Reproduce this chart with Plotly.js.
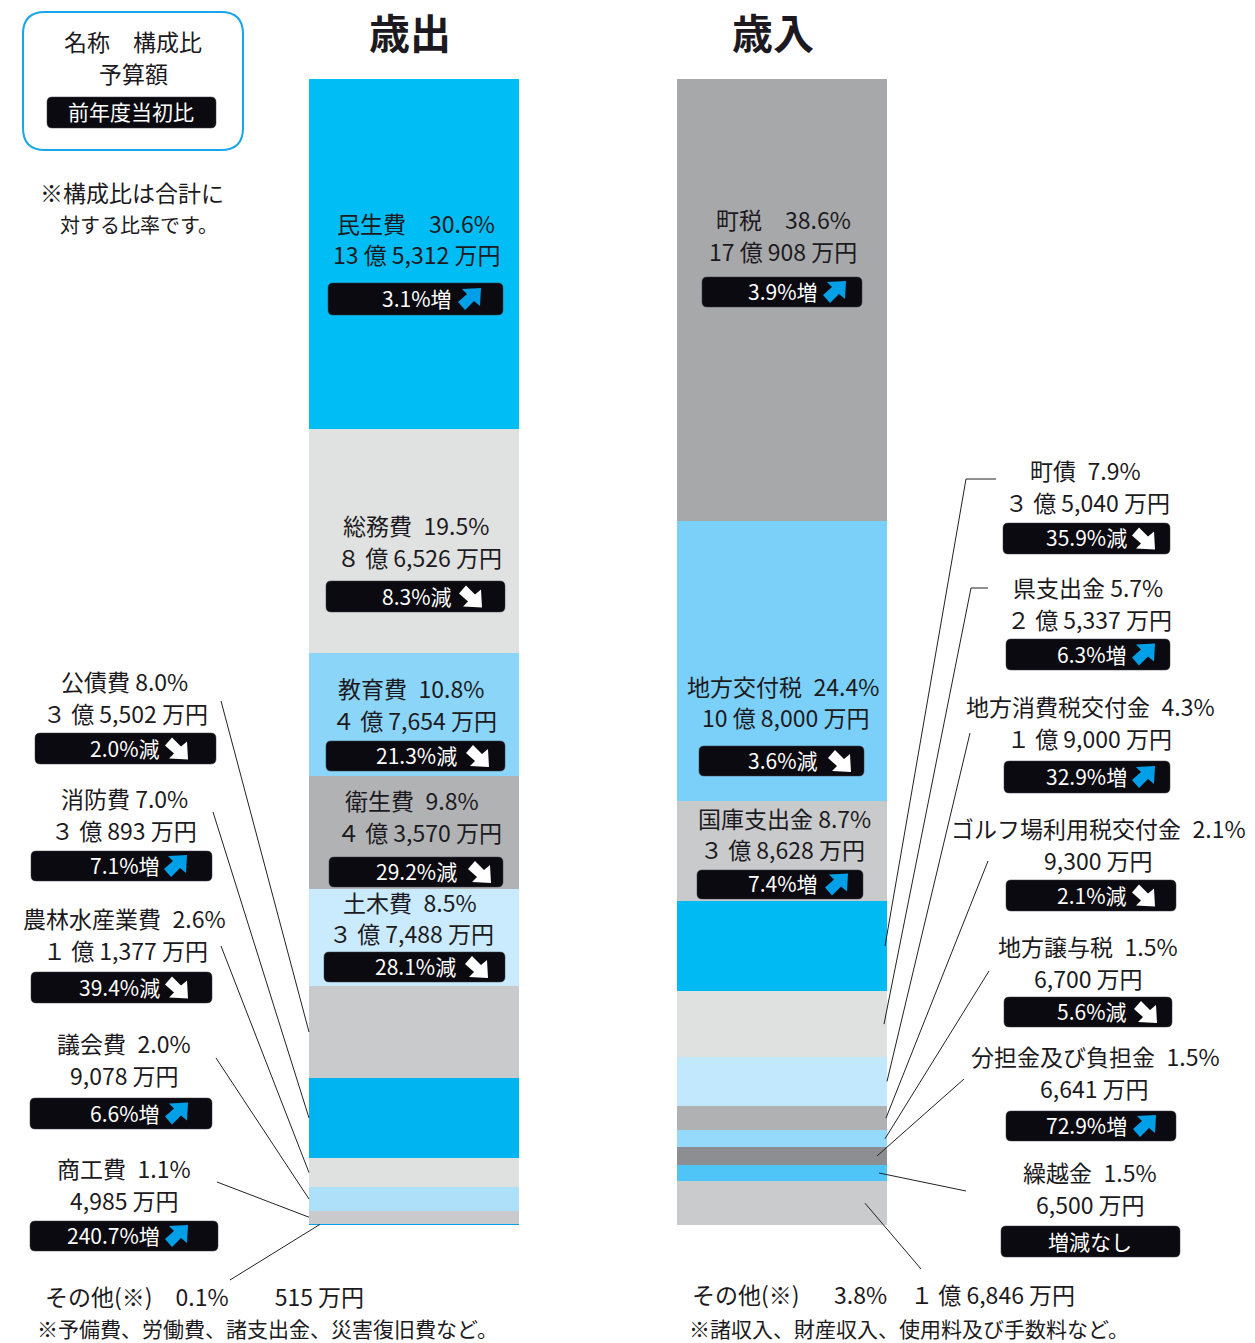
<!DOCTYPE html>
<html lang="ja">
<head>
<meta charset="utf-8">
<script src="https://cdn.plot.ly/plotly-3.0.1.min.js"></script>
<style>html,body{margin:0;padding:0;background:#fff}#chart{width:1255px;height:1343px}</style>
</head>
<body>
<div id="chart"></div>
<script>
// 歳出 (amounts in 万円, top segment first)
const expNames  = ["民生費","総務費","教育費","衛生費","土木費","公債費","消防費","農林水産業費","議会費","商工費","その他(※)"];
const expShares = ["30.6","19.5","10.8","9.8","8.5","8.0","7.0","2.6","2.0","1.1","0.1"];
const expAmounts = [135312,86526,47654,43570,37488,35502,30893,11377,9078,4985,515];
const expChanges = ["3.1%増","8.3%減","21.3%減","29.2%減","28.1%減","2.0%減","7.1%増","39.4%減","6.6%増","240.7%増",""];
const expColors = ["#00bdf6","#e0e2e1","#8bd5f8","#b1b2b4","#c9ebfd","#c9cacc","#00b3f1","#dfe1e0","#aee0fa","#c9cacc","#00a2ee"];

// 歳入
const revNames  = ["町税","地方交付税","国庫支出金","町債","県支出金","地方消費税交付金","ゴルフ場利用税交付金","地方譲与税","分担金及び負担金","繰越金","その他(※)"];
const revShares = ["38.6","24.4","8.7","7.9","5.7","4.3","2.1","1.5","1.5","1.5","3.8"];
const revAmounts = [170908,108000,38628,35040,25337,19000,9300,6700,6641,6500,16846];
const revChanges = ["3.9%増","3.6%減","7.4%増","35.9%減","6.3%増","32.9%増","2.1%減","5.6%減","72.9%増","増減なし",""];
const revColors = ["#a7a8aa","#7bd0f9","#c9cacc","#00bbf3","#dfe1e0","#c1e8fc","#b0b1b3","#96dafb","#8d8e91","#4fc5f7","#cacbcd"];

// Page geometry
const W = 1255, H = 1343;
const TOTAL = 442900, BASE = 1225, PX_PER_UNIT = 1146 / TOTAL;
const INK = "#1c1a20", PILL = "#0b0a10", BLUE = "#00a0e9";
const FS = 23, PILL_FS = 21, TEXT_SHIFT = 2;
const FONT = '"Noto Sans CJK JP","Noto Sans",sans-serif';
const WIDE_GAP = "\u3000", GAP = "\u2002";

// Label placement: [name x, name y, amount x, amount y, pill left, right, top, bottom, text right, arrow left, name/share gap]
const expPlace = [
  [416,225,416,256,328,503,283,315,454,458,WIDE_GAP],
  [416,527,419,559,326,505,581,612,454,459,GAP],
  [411,690,414,722,326,505,741,771,459,466,GAP],
  [412,802,419,834,329,503,857,887,459,468,GAP],
  [410,904,411,935,324,505,952,982,458,465,GAP],
  [124,683,125,715,35,216,733,764,162,165," "],
  [124,800,124,832,31,212,851,881,162,164," "],
  [124,920,125,952,31,212,972,1003,162,165,GAP],
  [124,1045,124,1077,30,212,1098,1129,162,165,GAP],
  [124,1170,124,1202,30,218,1221,1251,162,165,GAP]
];
const revPlace = [
  [783,221,783,253,702,862,277,307,820,823,WIDE_GAP],
  [783,688,785,719,699,864,746,776,820,828,GAP],
  [784,820,782,851,697,863,870,899,820,825," "],
  [1085,472,1087,504,1003,1170,523,554,1129,1132,GAP],
  [1088,589,1089,621,1006,1170,639,670,1129,1132," "],
  [1090,708,1089,740,1004,1170,761,793,1129,1132,GAP],
  [1098,830,1098,862,1006,1176,880,911,1129,1132,GAP],
  [1088,948,1088,980,1004,1172,997,1027,1129,1134,GAP],
  [1095,1058,1094,1090,1006,1176,1111,1141,1129,1133,GAP],
  [1090,1174,1090,1206,1001,1180,1226,1257,1090,0,GAP]
];

// Leader lines: segment index, start polyline, x of the end inside the segment
const expLeaders = [
  [5,[[221,701]],309],[6,[[213,812]],309],[7,[[221,946]],309],
  [8,[[216,1058]],309],[9,[[217,1182]],309],[10,[[230,1280]],320]
];
const revLeaders = [
  [3,[[996,479],[966,479]],885],[4,[[988,588],[971,588]],884],[5,[[970,733]],887],
  [6,[[988,861]],886],[7,[[989,971]],885],[8,[[964,1079]],877],
  [9,[[966,1191]],879],[10,[[921,1269]],865]
];

const px = x => x / W;
const py = y => 1 - y / H;
const pathOf = pts => "M" + pts.map(p => px(p[0]) + "," + py(p[1])).join(" L") + " Z";

function amountText(v) {
  const oku = Math.floor(v / 10000), man = v % 10000;
  const manText = man >= 1000 ? Math.floor(man / 1000) + "," + String(man % 1000).padStart(3, "0") : String(man);
  if (!oku) return manText + " 万円";
  const okuText = oku < 10 ? String.fromCharCode(0xFF10 + oku) : String(oku);
  return okuText + " 億 " + manText + " 万円";
}

function roundedRect(l, r, t, b, c) {
  const P = (x, y) => px(x) + "," + py(y);
  return "M" + P(l + c, t) + " L" + P(r - c, t) + " Q" + P(r, t) + " " + P(r, t + c) +
         " L" + P(r, b - c) + " Q" + P(r, b) + " " + P(r - c, b) +
         " L" + P(l + c, b) + " Q" + P(l, b) + " " + P(l, b - c) +
         " L" + P(l, t + c) + " Q" + P(l, t) + " " + P(l + c, t) + " Z";
}

const ARROW = [[23,0],[22,18],[16,13],[7,22],[0,14],[9,6],[4,1]];
function arrowShape(left, midY, up) {
  const pts = ARROW.map(p => [left + p[0], up ? midY - 11 + p[1] : midY + 11 - p[1]]);
  return {type:"path", xref:"paper", yref:"paper", path:pathOf(pts),
          fillcolor: up ? BLUE : "#fff", line:{width:0}};
}

const shapes = [], annotations = [];
function text(str, x, y, opts = {}) {
  annotations.push({text:str, xref:"paper", yref:"paper", x:px(x), y:py(y - TEXT_SHIFT), showarrow:false,
    xanchor:opts.anchor || "center", yanchor:"middle",
    font:{family:FONT, size:opts.size || FS,
          color:opts.color || INK, weight:opts.weight || 400}});
}
function pill(l, r, t, b) {
  shapes.push({type:"path", xref:"paper", yref:"paper", path:roundedRect(l, r, t, b, 5),
               fillcolor:PILL, line:{color:"#3a3a40", width:0.5}});
}

function segmentMid(amounts, i) {
  const above = amounts.slice(0, i).reduce((a, b) => a + b, 0);
  return BASE - (TOTAL - above - amounts[i] / 2) * PX_PER_UNIT;
}

function drawColumn(names, shares, amounts, changes, place, leaders) {
  place.forEach((p, i) => {
    text(names[i] + p[10] + shares[i] + "%", p[0], p[1]);
    text(amountText(amounts[i]), p[2], p[3]);
    pill(p[4], p[5], p[6], p[7]);
    const mid = (p[6] + p[7]) / 2;
    if (p[9]) {
      text(changes[i], p[8], mid + 1, {anchor:"right", size:PILL_FS, color:"#fff"});
      shapes.push(arrowShape(p[9], mid, changes[i].endsWith("増")));
    } else {
      text(changes[i], p[8], mid + 1, {size:PILL_FS, color:"#fff"});
    }
  });
  leaders.forEach(([seg, start, endX]) => {
    const pts = start.concat([[endX, segmentMid(amounts, seg)]]);
    const path = "M" + pts.map(q => px(q[0]) + "," + py(q[1])).join(" L");
    shapes.push({type:"path", xref:"paper", yref:"paper", path, line:{color:"#222", width:1}});
  });
}

drawColumn(expNames, expShares, expAmounts, expChanges, expPlace, expLeaders);
drawColumn(revNames, revShares, revAmounts, revChanges, revPlace, revLeaders);

// Column headings
text("歳出", 410, 33, {size:41, weight:700});
text("歳入", 773, 33, {size:41, weight:700});

// Key box in the top-left corner
shapes.push({type:"path", xref:"paper", yref:"paper", path:roundedRect(23, 243, 12, 150, 22),
             fillcolor:"rgba(0,0,0,0)", line:{color:"#18a6ea", width:2}});
text("名称　構成比", 133, 43);
text("予算額", 133, 75);
pill(47, 216, 97, 128);
text("前年度当初比", 131, 113, {size:PILL_FS, color:"#fff"});
text("※構成比は合計に", 132, 194, {size:FS});
text("対する比率です。", 139, 226, {size:20});

// Footnotes for the two その他 entries
text(expNames[10] + WIDE_GAP + expShares[10] + "%" + WIDE_GAP + WIDE_GAP + amountText(expAmounts[10]), 43, 1298, {anchor:"left"});
text("※予備費、労働費、諸支出金、災害復旧費など。", 35, 1330, {anchor:"left", size:21});
text(revNames[10] + WIDE_GAP + GAP + revShares[10] + "%" + WIDE_GAP + amountText(revAmounts[10]), 690, 1296, {anchor:"left"});
text("※諸収入、財産収入、使用料及び手数料など。", 687, 1330, {anchor:"left", size:21});

function stackTraces(names, amounts, colors, xCenter) {
  return names.map((n, i) => ({
    type:"bar", name:n, x:[xCenter], y:[amounts[i]], width:[210],
    marker:{color:colors[i], line:{width:0}}, hoverinfo:"skip"
  })).reverse();
}

const data = [
  ...stackTraces(expNames, expAmounts, expColors, 414),
  ...stackTraces(revNames, revAmounts, revColors, 782)
];

const layout = {
  width:W, height:H, margin:{l:0, r:0, t:0, b:0}, showlegend:false,
  paper_bgcolor:"#fff", plot_bgcolor:"#fff", barmode:"stack",
  xaxis:{range:[0, W], visible:false, fixedrange:true},
  yaxis:{range:[(BASE - H) / PX_PER_UNIT, BASE / PX_PER_UNIT], visible:false, fixedrange:true},
  shapes, annotations
};

Plotly.newPlot("chart", data, layout, {displayModeBar:false, staticPlot:true});
</script>
</body>
</html>
